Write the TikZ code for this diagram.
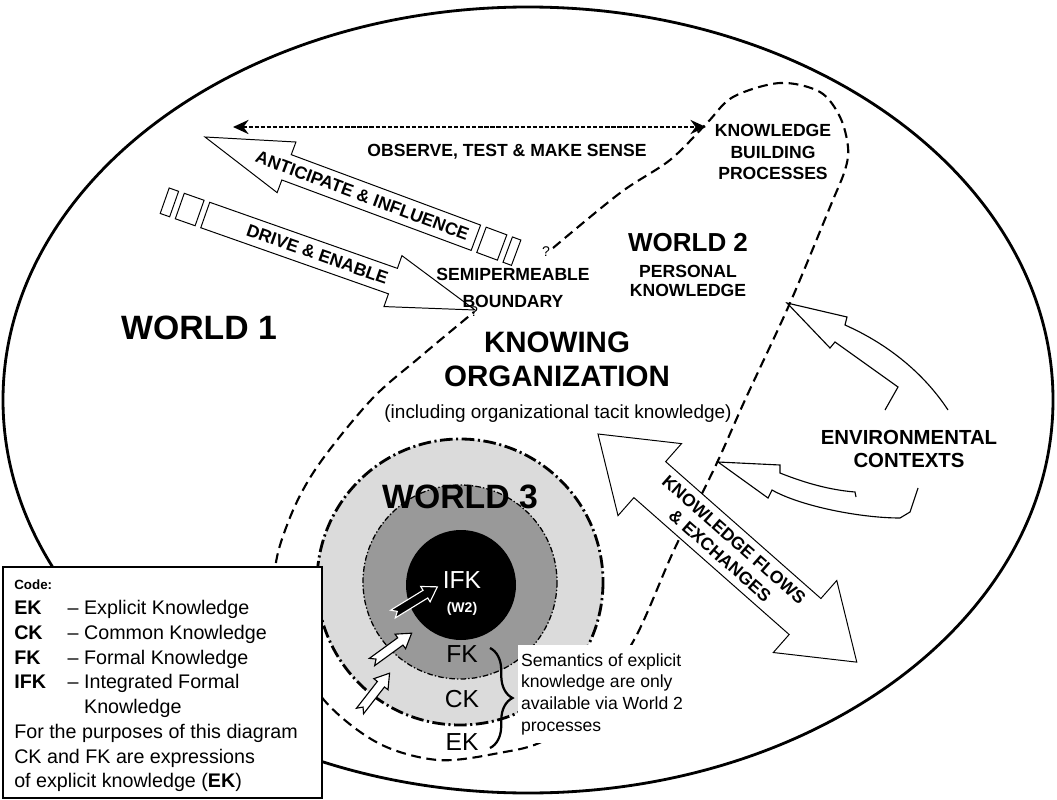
\documentclass[tikz,border=0pt]{standalone}
\usepackage{fontspec}
\setmainfont{Liberation Sans}
\usetikzlibrary{arrows.meta,decorations.pathreplacing}
\definecolor{wthree}{gray}{0.86}
\definecolor{wfk}{gray}{0.6}
\newcommand{\legkey}[1]{\makebox[38pt][l]{\textbf{#1}}}

\begin{document}
\begin{tikzpicture}[x=0.025cm, y=-0.025cm,
    cap label/.style={font=\bfseries\fontsize{12.5}{15}\selectfont, align=center},
    world label/.style={font=\bfseries\fontsize{24}{28}\selectfont},
    ring label/.style={font=\fontsize{17.5}{20}\selectfont},
    block arrow/.style={draw, fill=white, line width=0.7pt},
    env arrow/.style={draw, line width=0.8pt},
    tiny arrow/.style={draw, fill=white, line width=0.8pt},
    boundary/.style={draw, line width=1.5pt, dash pattern=on 7pt off 4pt}]
    \useasboundingbox (0,0) rectangle (1057,800);

    % World 1: the big ellipse
    \draw[line width=2pt] (528,400) ellipse [x radius=525, y radius=393];

    % World 2: the semipermeable boundary
    \draw[boundary] plot[smooth, tension=0.55] coordinates {
        (553,248) (620,193) (670,160) (707,123) (733,97) (780,83) (820,92)
        (840,117) (848,147) (845,170) (830,207) (790,303) (745,400) (715,467)
        (674,550) (634,640) (590,700) (545,740) (499,753) (438,760) (378,743)
        (324,700) (290,640) (275,575) (289,520) (317,467) (371,400) (420,357)
        (474,312)};
    \node[font=\fontsize{10}{12}\selectfont] (q1) at (546,252) {?};
    \node[font=\fontsize{10}{12}\selectfont] (q2) at (474,312) {?};

    % World 3 rings
    \coordinate (w3) at (460,582);
    \fill[wthree] (w3) circle [radius=143];
    \draw[line width=2pt, dash pattern=on 9pt off 2.5pt on 1.5pt off 2.5pt] (w3) circle [radius=143];
    \draw[fill=wfk, line width=0.9pt, dash pattern=on 4pt off 1.5pt on 1pt off 1.5pt] (w3) circle [radius=97];
    \fill (461,585) circle [radius=55];
    \node[world label] (w3label) at (460,497) {WORLD 3};
    \node[ring label, text=white] (ifk) at (462,580) {IFK};
    \node[font=\bfseries\fontsize{10}{12}\selectfont, text=white] (w2tag) at (462,609) {(W2)};
    \node[ring label] (fk) at (462,654) {FK};
    \node[ring label] (ck) at (462,699) {CK};
    \node[ring label] (ek) at (462,742) {EK};

    % small arrows into the rings
    \begin{scope}[shift={(393,614)}, rotate=31.5]
        \draw[tiny arrow, draw=white, fill=black] (0,-4.5) -- (38,-4.5) -- (38,-9) -- (52,0) -- (38,9) -- (38,4.5) -- (0,4.5) -- (5,0) -- cycle;
    \end{scope}
    \begin{scope}[shift={(372,662)}, rotate=36]
        \draw[tiny arrow] (0,-4.5) -- (35,-4.5) -- (35,-9) -- (49,0) -- (35,9) -- (35,4.5) -- (0,4.5) -- (5,0) -- cycle;
    \end{scope}
    \begin{scope}[shift={(360,711)}, rotate=52]
        \draw[tiny arrow] (0,-4.5) -- (34,-4.5) -- (34,-9) -- (48,0) -- (34,9) -- (34,4.5) -- (0,4.5) -- (5,0) -- cycle;
    \end{scope}

    % observe, test & make sense
    \coordinate (obsL) at (233,127);
    \coordinate (obsR) at (706,127);
    \draw[line width=2pt, dash pattern=on 3pt off 1.3pt, {Stealth[length=11pt,width=10pt]}-{Stealth[length=11pt,width=10pt]}] (obsL) -- (obsR);
    \node[cap label] (observe) at (507,152) {OBSERVE, TEST \& MAKE SENSE};

    % anticipate & influence
    \begin{scope}[shift={(205,137)}, rotate=-20.4]
        \draw[block arrow] (0,0) -- (87,-27) -- (87,-13.5) -- (289,-13.5) -- (289,13.5) -- (87,13.5) -- (87,27) -- cycle;
        \draw[block arrow] (295,-13.5) rectangle (317,13.5);
        \draw[block arrow] (323,-13.5) rectangle (332,13.5);
        \node[cap label, rotate=-20.4] (antic) at (168,0) {ANTICIPATE \& INFLUENCE};
    \end{scope}

    % drive & enable
    \begin{scope}[shift={(475,310)}, rotate=160.6]
        \draw[block arrow] (0,0) -- (87,-27) -- (87,-13.5) -- (286,-13.5) -- (286,13.5) -- (87,13.5) -- (87,27) -- cycle;
        \draw[block arrow] (292,-13.5) rectangle (313,13.5);
        \draw[block arrow] (319,-13.5) rectangle (329,13.5);
        \node[cap label, rotate=-19.4] (drive) at (167,0) {DRIVE \& ENABLE};
    \end{scope}

    % knowledge flows & exchanges
    \begin{scope}[shift={(598,434)}, rotate=-41.4]
        \draw[block arrow] (0,0) -- (69,-48) -- (69,-24) -- (276,-24) -- (276,-48) -- (345,0) -- (276,48) -- (276,24) -- (69,24) -- (69,48) -- cycle;
        \node[cap label, rotate=-41.4] (flows) at (172,0) {KNOWLEDGE FLOWS\\\& EXCHANGES};
    \end{scope}

    % environmental contexts
    \draw[env arrow] (948,410) .. controls (925,375) and (890,345) .. (845,325) -- (847,317) -- (787,303) -- (830,348) -- (835,342) -- (898,387) -- (885,410);
    \draw[env arrow] (856,497) -- (855,492) .. controls (830,490) and (805,483) .. (780,473) -- (780,465) -- (718,462) -- (768,498) -- (772,490) .. controls (800,506) and (860,518) .. (900,518) -- (910,512) -- (918,488);
    \node[font=\bfseries\fontsize{14.5}{16.5}\selectfont, align=center] (env) at (909,449) {ENVIRONMENTAL\\CONTEXTS};

    % labels of the worlds
    \node[world label] (w1) at (199,328) {WORLD 1};
    \node[font=\bfseries\fontsize{18.5}{22}\selectfont] (w2) at (688,243) {WORLD 2};
    \node[font=\bfseries\fontsize{12.5}{14}\selectfont, align=center] (personal) at (688,281) {PERSONAL\\KNOWLEDGE};
    \node[cap label] (kbp) at (773,152) {KNOWLEDGE\\BUILDING\\PROCESSES};
    \node[font=\bfseries\fontsize{12.5}{19}\selectfont, align=center] (semi) at (513,288) {SEMIPERMEABLE\\BOUNDARY};
    \node[font=\bfseries\fontsize{21}{24}\selectfont, align=center] (ko) at (557,359) {KNOWING\\ORGANIZATION};
    \node[font=\fontsize{13.5}{16}\selectfont] (tacit) at (558,414) {(including organizational tacit knowledge)};

    % semantics note with its brace
    \coordinate (braceT) at (490,648);
    \coordinate (braceB) at (490,748);
    \draw[decorate, decoration={brace, amplitude=16pt}, line width=1.6pt] (braceT) -- (braceB);
    \node[fill=white, anchor=north west, inner xsep=2pt, inner ysep=6pt, align=left,
          font=\fontsize{12.5}{15.3}\selectfont] (sem) at (518,645)
          {Semantics of explicit\\knowledge are only\\available via World 2\\processes};

    % code box
    \draw[line width=1.5pt, fill=white] (3,567) rectangle (322,798);
    \node[anchor=north west, align=left, inner sep=0pt, font=\fontsize{14}{17.6}\selectfont] (code) at (14,580) {%
        {\fontsize{9.5}{17.6}\selectfont\textbf{Code:}}\\
        \legkey{EK}-- Explicit Knowledge\\
        \legkey{CK}-- Common Knowledge\\
        \legkey{FK}-- Formal Knowledge\\
        \legkey{IFK}-- Integrated Formal\\
        \hspace*{38pt}\phantom{-- }Knowledge\\
        For the purposes of this diagram\\
        CK and FK are expressions\\
        of explicit knowledge (\textbf{EK})};
\end{tikzpicture}
\end{document}
